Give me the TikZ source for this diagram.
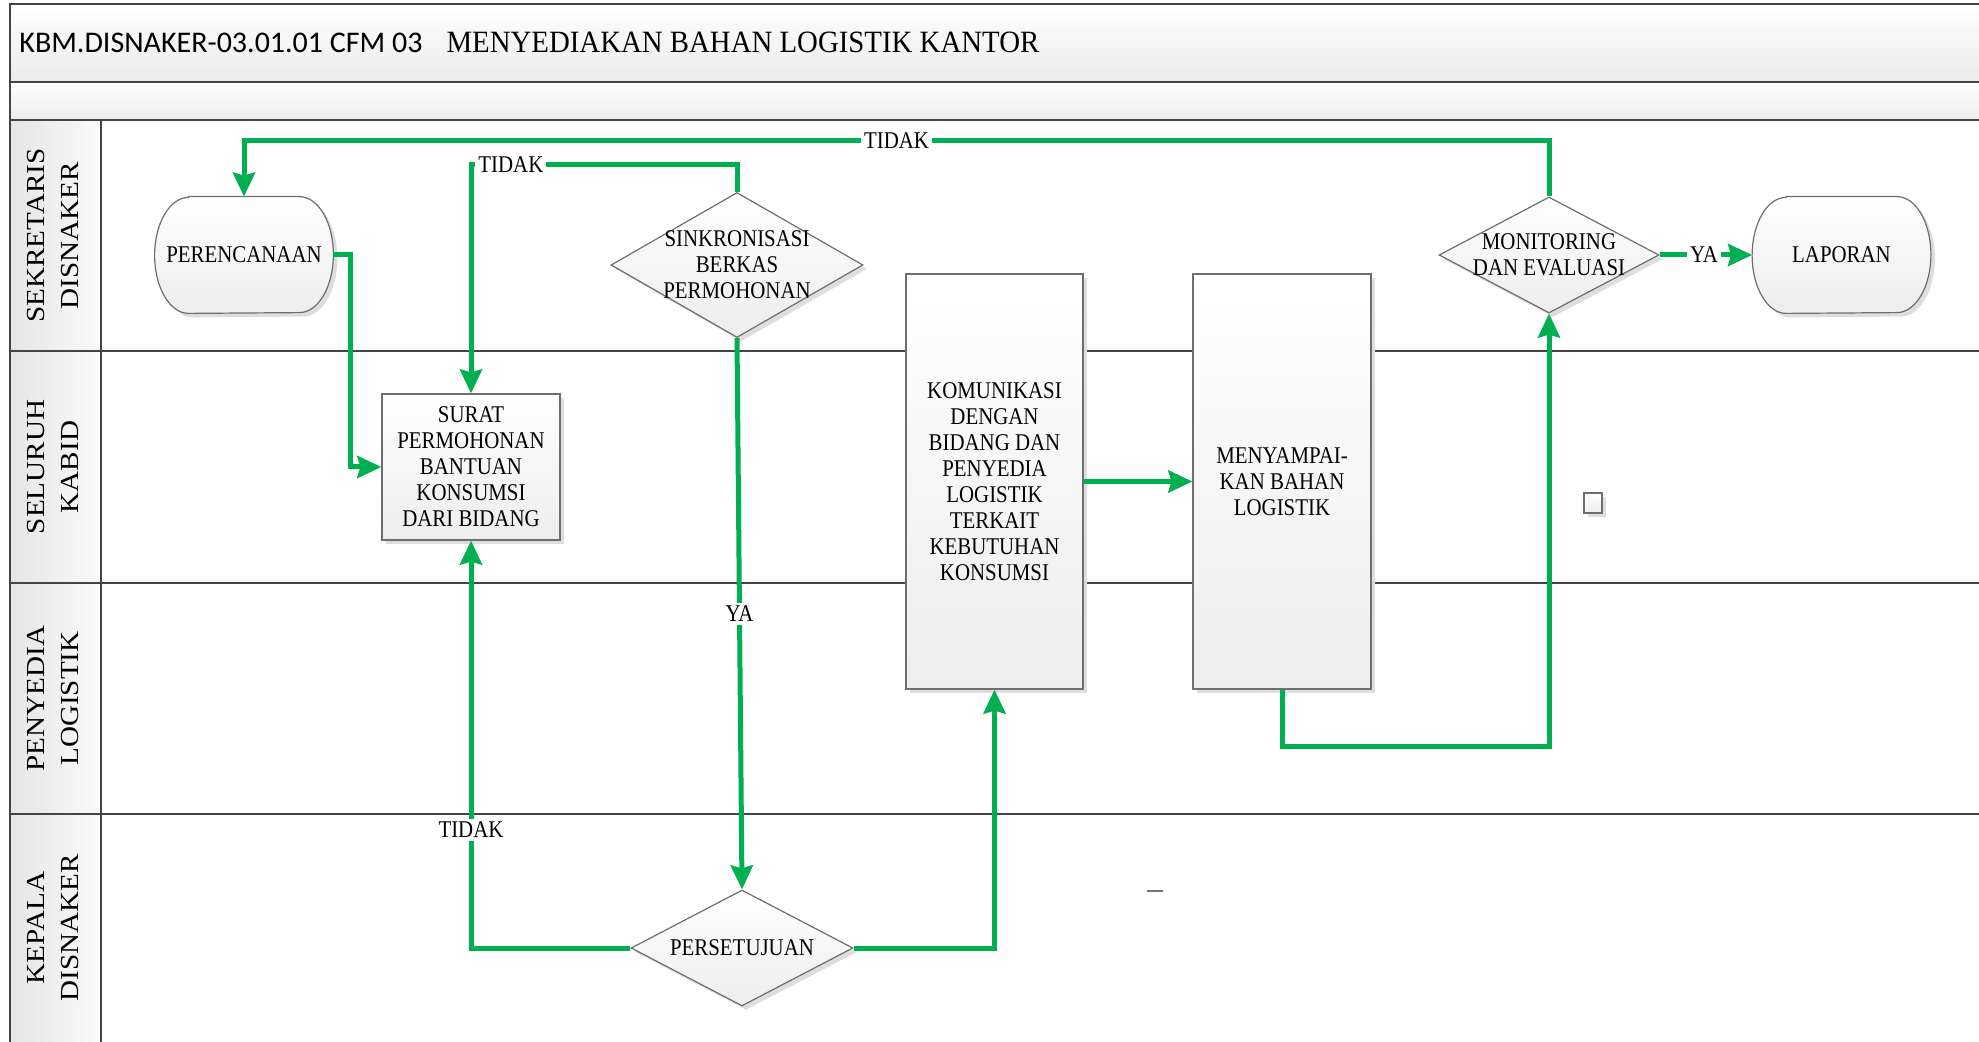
\documentclass[tikz,border=0pt]{standalone}
\usepackage{fontspec}
\setmainfont{Liberation Serif}[FakeStretch=0.87]
\newfontfamily\lanefont{Liberation Serif}[FakeStretch=1.12]
\newfontfamily\headserif{Liberation Serif}[FakeStretch=0.93]
\newfontfamily\headsans{Carlito}
\usetikzlibrary{shapes.geometric,arrows.meta,shadows}
\pgfdeclarelayer{lanes}
\pgfdeclarelayer{shapes}
\pgfsetlayers{lanes,shapes,main}
\definecolor{flowgreen}{RGB}{0,176,80}
\definecolor{framegray}{RGB}{68,68,68}
\definecolor{edgegray}{RGB}{110,110,110}

\tikzset{
  boxshade/.style={top color=white, bottom color=black!7},
  softshadow/.style={drop shadow={shadow xshift=2pt, shadow yshift=-2pt, fill=black!13, opacity=1}},
  nodefont/.style={font=\fontsize{12}{13}\selectfont},
  procbox/.style={rectangle, draw=edgegray, line width=0.6pt, boxshade, softshadow, align=center, inner sep=0pt, nodefont},
  decision/.style={diamond, draw=edgegray, line width=0.6pt, boxshade, softshadow, inner sep=0pt},
  dtext/.style={align=center, inner sep=0pt, nodefont},
  termbox/.style={rectangle, inner sep=0pt, align=center, nodefont},
  termfill/.style={draw=edgegray, line width=0.6pt, boxshade, softshadow},
  flow/.style={draw=flowgreen, line width=2.5pt, -{Stealth[length=12pt,width=11pt,inset=1.5pt]}},
  lbl/.style={fill=white, inner sep=1.5pt, nodefont},
  lanerule/.style={draw=framegray, line width=0.9pt},
  lanelabel/.style={rotate=90, align=center, inner sep=0pt, font=\lanefont\fontsize{13}{17}\selectfont},
}

\begin{document}
\begin{tikzpicture}[x=0.5pt, y=-0.5pt]
\useasboundingbox (0,0) rectangle (1979,1042);

% ---- swimlane frame ----
\begin{pgfonlayer}{lanes}
  \fill[top color=white, bottom color=black!8] (10,4) rectangle (1979,82);
  \fill[top color=white, bottom color=black!7] (10,82) rectangle (1979,120);
  \fill[left color=black!10, right color=black!2] (10,120) rectangle (101,1042);
  \draw[framegray, line width=1.2pt] (10,1042) -- (10,4) -- (1979,4);
  \draw[lanerule] (10,82) -- (1979,82);
  \draw[lanerule] (10,120) -- (1979,120);
  \draw[lanerule] (101,120) -- (101,1042);
  \draw[lanerule] (10,351) -- (1979,351);
  \draw[lanerule] (10,583) -- (1979,583);
  \draw[lanerule] (10,814) -- (1979,814);
\end{pgfonlayer}

% ---- heading ----
\node[anchor=base west, inner sep=0pt] (title) at (19,53)
  {{\headsans\fontsize{15}{18}\selectfont KBM.DISNAKER-03.01.01 CFM 03}\hspace{12pt}{\headserif\fontsize{15.5}{18}\selectfont MENYEDIAKAN BAHAN LOGISTIK KANTOR}};

% ---- lane labels ----
\node[lanelabel] (laneA) at (53,235.5) {SEKRETARIS\\DISNAKER};
\node[lanelabel] (laneB) at (53,467) {SELURUH\\KABID};
\node[lanelabel] (laneC) at (53,698.5) {PENYEDIA\\LOGISTIK};
\node[lanelabel] (laneD) at (53,928) {KEPALA\\DISNAKER};

% ---- terminators ----
\node[termbox, minimum width=89pt, minimum height=58pt] (per) at (244,255) {PERENCANAAN};
\node[termbox, minimum width=89pt, minimum height=58pt] (lap) at (1841.5,255) {LAPORAN};
\begin{pgfonlayer}{shapes}
  \foreach \t in {per,lap}{
    \path[termfill] ([xshift=17pt]\t.north west) -- ([xshift=-17pt]\t.north east)
      arc[start angle=90, end angle=-90, x radius=17pt, y radius=29pt]
      -- ([xshift=17pt]\t.south west)
      arc[start angle=270, end angle=90, x radius=17pt, y radius=29pt] -- cycle;
  }
\end{pgfonlayer}

% ---- process boxes ----
\node[procbox, minimum width=89pt, minimum height=73pt] (sur) at (471,467)
  {SURAT\\PERMOHONAN\\BANTUAN\\KONSUMSI\\DARI BIDANG};
\node[procbox, minimum width=88.5pt, minimum height=207.5pt] (kom) at (994.5,481.5)
  {KOMUNIKASI\\DENGAN\\BIDANG DAN\\PENYEDIA\\LOGISTIK\\TERKAIT\\KEBUTUHAN\\KONSUMSI};
\node[procbox, minimum width=89pt, minimum height=207.5pt] (meny) at (1282,481.5)
  {MENYAMPAI-\\KAN BAHAN\\LOGISTIK};

% ---- decisions ----
\node[decision, minimum width=126pt, minimum height=72.5pt] (sink) at (737,265) {};
\node[dtext] (sinktext) at (sink) {SINKRONISASI\\BERKAS\\PERMOHONAN};
\node[decision, minimum width=110pt, minimum height=58pt] (mon) at (1549,255) {};
\node[dtext] (montext) at (mon) {MONITORING\\DAN EVALUASI};
\node[decision, minimum width=111pt, minimum height=58pt] (pers) at (742,948) {};
\node[dtext] (perstext) at (pers) {PERSETUJUAN};

% ---- small marks ----
\path[draw=edgegray, line width=0.8pt, boxshade, softshadow] (1584,493) rectangle (1602,513);
\draw[black!55, line width=0.8pt] (1147,891) -- (1163,891);

% ---- connectors ----
\draw[flow] (per.east) -- ++(17,0) |- (sur.west);
\draw[flow] (sink.north) -- ++(0,-27.5) -| (sur.north) node[lbl, pos=0.425] {TIDAK};
\draw[flow] (sink.south) -- (pers.north) node[lbl, pos=0.5] {YA};
\draw[flow] (pers.west) -| (sur.south) node[lbl, pos=0.645] {TIDAK};
\draw[flow] (pers.east) -| (kom.south);
\draw[flow] (kom.east) -- (meny.west);
\draw[flow] (meny.south) -- ++(0,57) -| (mon.south);
\draw[flow] (mon.north) -- ++(0,-56) -| (per.north) node[lbl, pos=0.25] {TIDAK};
\draw[flow] (mon.east) -- (lap.west) node[lbl, pos=0.48] {YA};
\end{tikzpicture}
\end{document}
